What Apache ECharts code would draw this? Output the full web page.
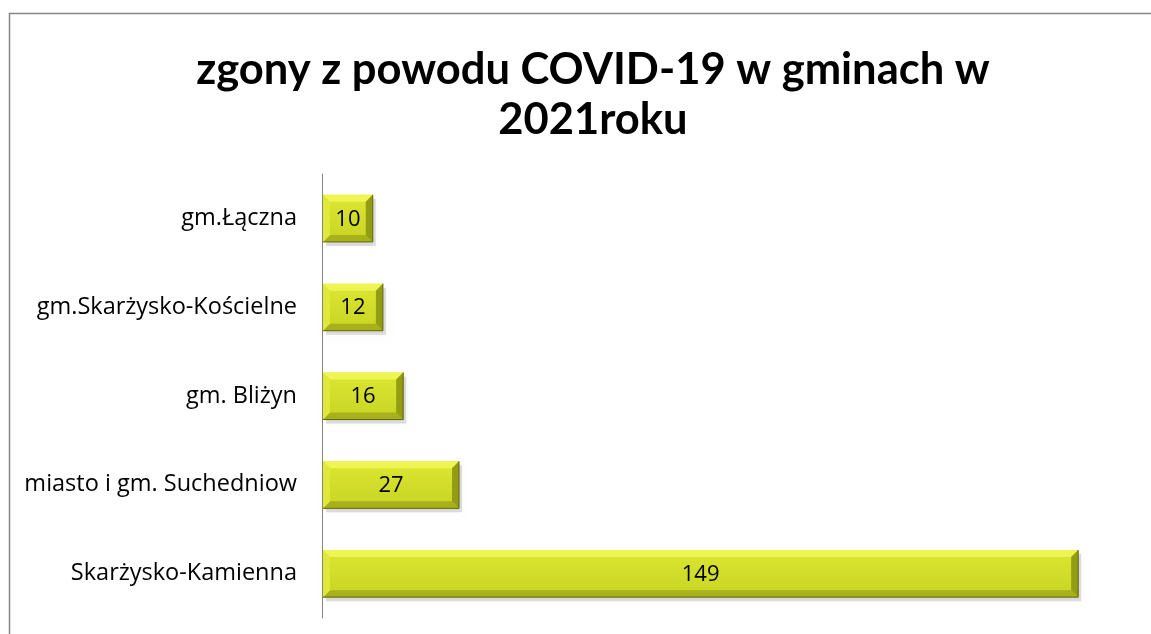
<!DOCTYPE html>
<html>
<head>
<meta charset="utf-8">
<script src="https://cdn.jsdelivr.net/npm/echarts@6/dist/echarts.min.js"></script>
<style>
  html, body { margin: 0; padding: 0; background: #fff; }
  #chart { width: 1151px; height: 634px; }
</style>
</head>
<body>
<div id="chart"></div>
<script>
const titleText = 'zgony z powodu COVID-19 w gminach w\n2021roku'
const categories = ['gm.Łączna', 'gm.Skarżysko-Kościelne', 'gm. Bliżyn', 'miasto i gm. Suchedniow', 'Skarżysko-Kamienna']
const deaths = [10, 12, 16, 27, 149]

const topColor = '#eef552'
const leftColor = '#dfe93a'
const bottomColor = '#a7b11a'
const rightColor = '#939d14'

// bar drawn as a bevelled box, like the office chart
function renderBar(params, api) {
  const idx = api.value(1)
  const end = api.coord([api.value(0), idx])
  const start = api.coord([0, idx])
  const band = api.size([0, 1])[1]
  const h = band * 0.53
  const x0 = start[0] + 1
  const x1 = end[0]
  const y0 = end[1] - h / 2
  const y1 = end[1] + h / 2
  const b = Math.min(7, (x1 - x0) / 4)
  return {
    type: 'group',
    children: [
      {
        type: 'rect',
        shape: {x: x0 + 3, y: y0 + 4, width: x1 - x0, height: h},
        style: {fill: 'rgba(0,0,0,0.12)', shadowBlur: 6, shadowColor: 'rgba(0,0,0,0.25)'}
      },
      {
        type: 'rect',
        shape: {x: x0, y: y0, width: x1 - x0, height: h},
        style: {
          fill: new echarts.graphic.LinearGradient(0, 0, 0, 1, [
            {offset: 0, color: '#dce733'},
            {offset: 1, color: '#c8d423'}
          ])
        }
      },
      {
        type: 'polygon',
        shape: {points: [[x0, y0], [x1, y0], [x1 - b, y0 + b], [x0 + b, y0 + b]]},
        style: {fill: topColor}
      },
      {
        type: 'polygon',
        shape: {points: [[x0, y1], [x1, y1], [x1 - b, y1 - b], [x0 + b, y1 - b]]},
        style: {fill: bottomColor}
      },
      {
        type: 'polygon',
        shape: {points: [[x0, y0], [x0 + b, y0 + b], [x0 + b, y1 - b], [x0, y1]]},
        style: {fill: leftColor}
      },
      {
        type: 'polygon',
        shape: {points: [[x1, y0], [x1 - b, y0 + b], [x1 - b, y1 - b], [x1, y1]]},
        style: {fill: rightColor}
      },
      {
        type: 'polyline',
        shape: {points: [[x1, y0], [x1, y1], [x0, y1]]},
        style: {stroke: '#5f6608', lineWidth: 1, fill: null}
      },
      {
        type: 'text',
        style: {
          text: String(api.value(0)),
          x: (x0 + x1) / 2,
          y: (y0 + y1) / 2 + 1,
          align: 'center',
          verticalAlign: 'middle',
          fill: '#000',
          font: '22px "Open Sans"'
        }
      }
    ]
  }
}

const chart = echarts.init(document.getElementById('chart'), null, {renderer: 'canvas'})
chart.setOption({
  animation: false,
  backgroundColor: '#fff',
  title: {
    text: titleText,
    left: 588,
    textAlign: 'center',
    top: 40,
    textStyle: {
      fontFamily: 'Lato',
      fontWeight: 'bold',
      fontSize: 43.5,
      lineHeight: 50,
      color: '#000'
    }
  },
  graphic: [
    {
      type: 'rect',
      shape: {x: 9.5, y: 13.5, width: 1300, height: 800},
      style: {fill: null, stroke: '#868686', lineWidth: 1.5},
      silent: true
    }
  ],
  grid: {left: 322, right: 17, top: 174, bottom: 16, containLabel: false},
  xAxis: {
    type: 'value',
    min: 0,
    max: 160,
    show: false
  },
  yAxis: {
    type: 'category',
    inverse: true,
    data: categories,
    axisLine: {show: true, lineStyle: {color: '#868686', width: 1}},
    axisTick: {show: false},
    axisLabel: {
      margin: 25,
      color: '#000',
      fontFamily: 'Open Sans',
      fontSize: 23.5
    }
  },
  series: [
    {
      type: 'custom',
      renderItem: renderBar,
      encode: {x: 0, y: 1},
      data: deaths.map((v, i) => [v, i])
    }
  ]
})
</script>
</body>
</html>
